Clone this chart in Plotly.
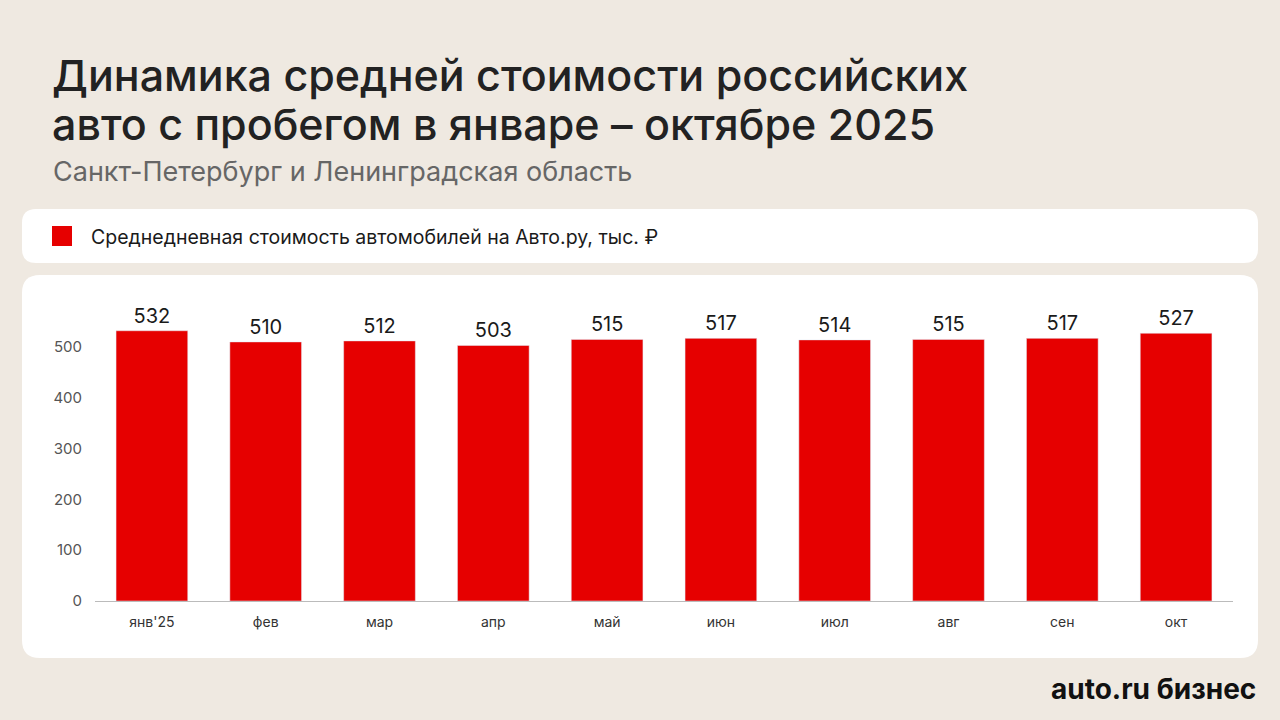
import plotly.graph_objects as go

months = ["янв'25", "фев", "мар", "апр", "май", "июн", "июл", "авг", "сен", "окт"]
prices = [532, 510, 512, 503, 515, 517, 514, 515, 517, 527]
y_ticks = [0, 100, 200, 300, 400, 500]

W, H = 1280, 720
BG = "#efe9e1"
RED = "#e60000"


def px_x(x):
    return x / W


def px_y(y):
    return (H - y) / H


def rounded_rect(x0, y0, x1, y1, r):
    # path in paper coords (pixel input, y downwards)
    X0, X1 = px_x(x0), px_x(x1)
    Y0, Y1 = px_y(y0), px_y(y1)
    rx, ry = r / W, r / H
    return (
        f"M {X0 + rx},{Y0} L {X1 - rx},{Y0} Q {X1},{Y0} {X1},{Y0 - ry} "
        f"L {X1},{Y1 + ry} Q {X1},{Y1} {X1 - rx},{Y1} L {X0 + rx},{Y1} "
        f"Q {X0},{Y1} {X0},{Y1 + ry} L {X0},{Y0 - ry} Q {X0},{Y0} {X0 + rx},{Y0} Z"
    )


fig = go.Figure(
    go.Bar(
        x=months,
        y=prices,
        marker_color=RED,
        width=0.63,
        text=prices,
        textposition="outside",
        textfont=dict(size=20, color="#1a1a1a"),
        cliponaxis=False,
        showlegend=False,
    )
)

y_top = 560
title_font = dict(size=43, color="#222", family="Inter, Roboto, sans-serif", weight=500)
fig.update_layout(
    width=W,
    height=H,
    paper_bgcolor=BG,
    plot_bgcolor="white",
    margin=dict(l=0, r=0, t=0, b=0),
    font=dict(family="Inter, Roboto, sans-serif", color="#222"),
    xaxis=dict(
        domain=[px_x(95), px_x(1233)],
        anchor="y",
        automargin=False,
        showline=True,
        linecolor="#bbbbbb",
        ticks="",
        tickfont=dict(size=14, color="#333"),
        ticklabelstandoff=8,
    ),
    yaxis=dict(
        domain=[px_y(601), px_y(601 - y_top * 0.508)],
        range=[0, y_top],
        automargin=False,
        tickvals=y_ticks,
        showgrid=False,
        zeroline=False,
        tickfont=dict(size=15, color="#555"),
        ticklabelstandoff=12,
    ),
    shapes=[
        dict(type="path", xref="paper", yref="paper", layer="below",
             path=rounded_rect(22, 209, 1258, 263, 14), fillcolor="white", line_width=0),
        dict(type="path", xref="paper", yref="paper", layer="below",
             path=rounded_rect(22, 275, 1258, 658, 18), fillcolor="white", line_width=0),
        dict(type="rect", xref="paper", yref="paper", layer="above",
             x0=px_x(52), x1=px_x(72), y0=px_y(226), y1=px_y(246),
             fillcolor=RED, line_width=0),
    ],
    annotations=[
        dict(text="Динамика средней стоимости российских",
             x=px_x(50), y=px_y(75), xref="paper", yref="paper", xanchor="left", yanchor="middle",
             showarrow=False, font=title_font),
        dict(text="авто с пробегом в январе – октябре 2025",
             x=px_x(50), y=px_y(124), xref="paper", yref="paper", xanchor="left", yanchor="middle",
             showarrow=False, font=title_font),
        dict(text="Санкт-Петербург и Ленинградская область",
             x=px_x(51), y=px_y(171), xref="paper", yref="paper", xanchor="left", yanchor="middle",
             showarrow=False, font=dict(size=27, color="#666")),
        dict(text="Среднедневная стоимость автомобилей на Авто.ру, тыс. ₽",
             x=px_x(89), y=px_y(237), xref="paper", yref="paper", xanchor="left", yanchor="middle",
             showarrow=False, font=dict(size=19.5, color="#1a1a1a")),
        dict(text="<b>auto.ru бизнес</b>",
             x=px_x(1258), y=px_y(689), xref="paper", yref="paper", xanchor="right", yanchor="middle",
             showarrow=False, font=dict(size=28, color="#111")),
    ],
)

fig.write_html(
    "out.html",
    config={"displayModeBar": False},
    post_script=(
        "document.documentElement.style.margin='0';"
        "document.documentElement.style.overflow='hidden';"
        "document.body.style.margin='0';"
        "document.body.style.overflow='hidden';"
        "document.body.style.height='720px';"
    ),
)
